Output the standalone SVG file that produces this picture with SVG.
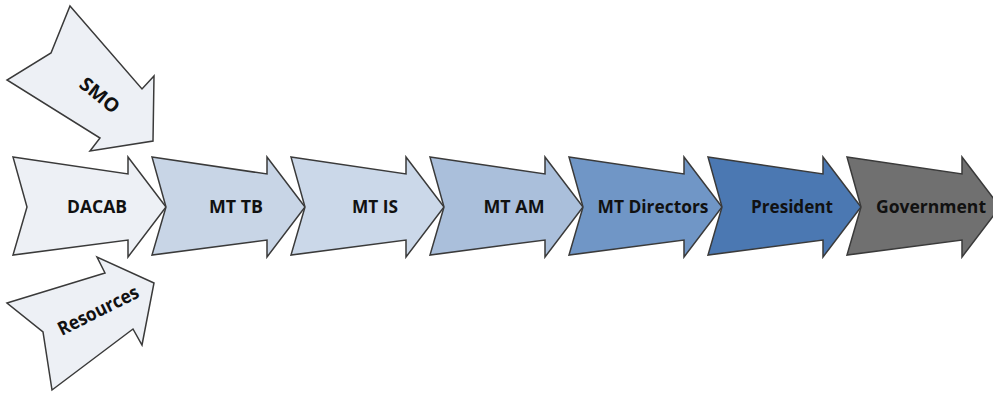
<svg xmlns="http://www.w3.org/2000/svg" width="993" height="394" viewBox="0 0 993 394">
  <defs>
    <!-- notched chevron with a tapered body, tail at x=0, tip at x=153 -->
    <polygon id="chevron" points="0,157 115,174 115,157 153,207 115,257 115,240 0,255 14,207"/>
    <style>
      .shape { stroke: #3a3a3a; stroke-width: 1.5; stroke-linejoin: miter; }
      .pale { fill: #edf0f5; }
      .tb { fill: #c8d5e6; }
      .is { fill: #cbd8e9; }
      .am { fill: #aabfdb; }
      .dir { fill: #7096c6; }
      .pres { fill: #4b78b2; }
      .gov { fill: #707070; }
      .label { font-family: "Open Sans", "Liberation Sans", sans-serif; font-weight: bold; font-size: 18px; fill: #111111; text-anchor: middle; }
      .tilted { font-size: 19px; }
    </style>
  </defs>
  <rect width="993" height="394" fill="#ffffff"/>

  <!-- inputs feeding the first stage -->
  <g id="smo">
    <polygon class="shape pale" points="70,6 142,89 154,76 153,141 90,151 100,138 7,80 51,53"/>
    <text class="label tilted" transform="translate(100,95) rotate(39)" y="7" textLength="45" lengthAdjust="spacingAndGlyphs">SMO</text>
  </g>
  <g id="resources">
    <polygon class="shape pale" points="7,303 105,273 97,257 154,283 142,345 133,329 52,390 43,332"/>
    <text class="label tilted" transform="translate(98,310) rotate(-26.5)" y="7" textLength="88" lengthAdjust="spacingAndGlyphs">Resources</text>
  </g>

  <!-- main chain of stages -->
  <g id="dacab">
    <use href="#chevron" class="shape pale" x="13"/>
    <text class="label" x="97" y="213" textLength="60" lengthAdjust="spacingAndGlyphs">DACAB</text>
  </g>
  <g id="mt-tb">
    <use href="#chevron" class="shape tb" x="152"/>
    <text class="label" x="236" y="213" textLength="54" lengthAdjust="spacingAndGlyphs">MT TB</text>
  </g>
  <g id="mt-is">
    <use href="#chevron" class="shape is" x="291"/>
    <text class="label" x="375" y="213" textLength="46" lengthAdjust="spacingAndGlyphs">MT IS</text>
  </g>
  <g id="mt-am">
    <use href="#chevron" class="shape am" x="430"/>
    <text class="label" x="514" y="213" textLength="61" lengthAdjust="spacingAndGlyphs">MT AM</text>
  </g>
  <g id="mt-directors">
    <use href="#chevron" class="shape dir" x="569"/>
    <text class="label" x="653" y="213" textLength="111" lengthAdjust="spacingAndGlyphs">MT Directors</text>
  </g>
  <g id="president">
    <use href="#chevron" class="shape pres" x="708"/>
    <text class="label" x="792" y="213" textLength="82" lengthAdjust="spacingAndGlyphs">President</text>
  </g>
  <g id="government">
    <use href="#chevron" class="shape gov" x="847"/>
    <text class="label" x="931" y="213" textLength="110" lengthAdjust="spacingAndGlyphs">Government</text>
  </g>

  <!-- the stages touch tip-to-notch, so no separate connector lines are drawn -->
  <g id="connectors"/>
</svg>
